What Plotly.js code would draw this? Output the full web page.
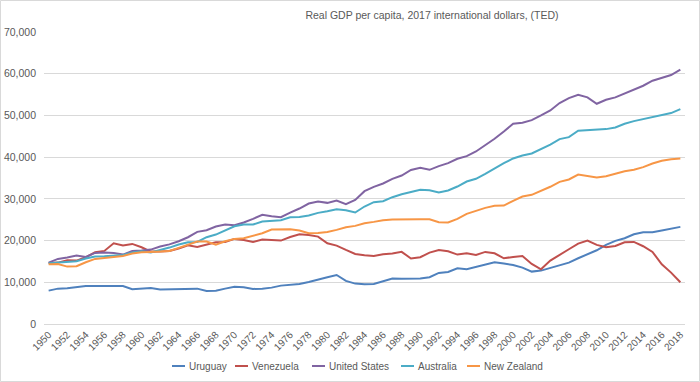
<!DOCTYPE html>
<html>
<head>
<meta charset="utf-8">
<script src="https://cdn.plot.ly/plotly-3.0.1.min.js"></script>
<style>
html,body{margin:0;padding:0;background:#fff;}
#chart{width:700px;height:382px;}
</style>
</head>
<body>
<div id="chart"></div>
<script>
const years = [];
for (let y = 1950; y <= 2018; y++) years.push(y);

const uruguay = [8000,8480,8560,8800,9120,9120,9120,9120,9120,8320,
8560,8640,8300,8300,8300,8300,8480,7900,8000,8480,
8900,8800,8400,8480,8720,9200,9450,9600,10080,10560,
11200,11750,10320,9680,9520,9600,10240,10880,10850,10850,
10900,11200,12240,12480,13360,13120,13680,14320,14800,14480,
14160,13520,12560,12800,13400,14160,14720,15760,16800,17680,
18960,19920,20560,21520,22000,22000,22400,22880,23280];

const venezuela = [14640,14720,15280,15200,16000,17200,17520,19360,18800,19200,
18400,17360,17400,17500,18080,18880,18480,18960,19600,19680,
20400,20160,19680,20240,20160,20000,20850,21520,21360,20960,
19360,18800,17760,16800,16480,16320,16720,16880,17300,15700,
16000,17120,17760,17440,16640,16960,16560,17280,16960,15760,
16080,16320,14400,13100,15200,16640,17920,19280,20000,18960,
18400,18720,19600,19680,18640,17280,14320,12320,10000];

const unitedStates = [14720,15600,15920,16400,16080,17040,17120,17040,16640,17520,
17600,17840,18560,19080,19840,20800,22080,22480,23360,23840,
23680,24320,25200,26160,25840,25600,26720,27680,28880,29360,
29040,29600,28720,29760,31840,32880,33680,34800,35600,36920,
37440,36960,37840,38560,39600,40240,41360,42800,44400,46160,
48000,48240,48880,50000,51200,52960,54160,54960,54320,52800,
53760,54320,55200,56080,57120,58320,58960,59680,60960];

const australia = [14560,14720,14960,15040,15680,16160,16240,16320,16560,17120,
17440,17120,17640,18320,19040,19600,19680,20800,21440,22480,
23440,23840,23840,24560,24640,24880,25600,25680,26000,26640,
27040,27520,27280,26720,28160,29200,29440,30400,31100,31700,
32160,32080,31520,32000,32960,34160,34800,36000,37360,38560,
39680,40400,40880,42000,43000,44320,44800,46320,46480,46560,
46720,47120,48000,48640,49120,49760,50240,50560,51520];

const newZealand = [14320,14400,13760,13840,14800,15600,15840,16000,16320,16880,
17200,17280,17320,17520,18240,18960,19760,19760,19040,19840,
20400,20560,21120,21760,22640,22760,22720,22400,21760,21840,
22080,22560,23200,23520,24160,24480,24880,25040,25120,25160,
25120,25120,24400,24320,25200,26400,27200,27840,28320,28400,
29520,30560,30960,31840,32900,34080,34640,35840,35520,35120,
35440,36000,36640,36960,37600,38480,39120,39520,39680];

const seriesNames = ["Uruguay","Venezuela","United States","Australia","New Zealand"];
const seriesValues = [uruguay, venezuela, unitedStates, australia, newZealand];
const colors = ["#4F81BD","#C0504D","#8064A2","#4BACC6","#F79646"];

const tickYears = years.filter(y => y % 2 === 0);

const FONT = "Liberation Sans, Arial, sans-serif";

const traces = seriesNames.map((n, i) => ({
  x: years, y: seriesValues[i], name: n, type: "scatter", mode: "lines",
  line: {color: colors[i], width: 2}, showlegend: false
}));

const L = 44, R = 685, T = 32, B = 324, W = 700, H = 382;
const pw = R - L, ph = B - T;
const px = x => (x - L) / pw;
const py = y => (B - y) / ph;

// custom legend (line sample start positions, in pixels)
const legendStarts = [172, 235, 312, 401, 467];
const legendY = 366;
const shapes = [{type: "rect", xref: "paper", yref: "paper",
  x0: px(0.5), x1: px(W - 0.5), y0: py(H - 0.5), y1: py(0.5),
  line: {color: "#d9d9d9", width: 1}, fillcolor: "rgba(0,0,0,0)", layer: "below"}];
const annotations = [];
seriesNames.forEach((n, i) => {
  const s = legendStarts[i];
  shapes.push({type: "line", xref: "paper", yref: "paper",
    x0: px(s), x1: px(s + 13), y0: py(legendY), y1: py(legendY),
    line: {color: colors[i], width: 2}});
  annotations.push({xref: "paper", yref: "paper", x: px(s + 15), y: py(legendY),
    xanchor: "left", yanchor: "middle", showarrow: false, text: n,
    font: {family: FONT, size: 10, color: "#595959"}});
});

const layout = {
  width: W, height: H,
  margin: {l: L, r: W - R, t: T, b: H - B, pad: 0},
  paper_bgcolor: "#fff", plot_bgcolor: "#fff",
  font: {family: FONT, size: 10, color: "#595959"},
  showlegend: false,
  title: {text: "Real GDP per capita, 2017 international dollars, (TED)",
          font: {family: FONT, size: 10.5, color: "#595959"},
          x: 432 / W, xanchor: "center", xref: "container",
          y: 1 - 15 / H, yanchor: "middle", yref: "container"},
  xaxis: {range: [1949.5, 2018.5], tickvals: tickYears, ticktext: tickYears.map(String),
          tickangle: -45, showgrid: false, zeroline: false, showline: true,
          linecolor: "#d9d9d9", linewidth: 1, ticks: "", automargin: false,
          tickfont: {family: FONT, size: 10, color: "#595959"}},
  yaxis: {range: [0, 70000], dtick: 10000, tickformat: ",d", showgrid: true,
          gridcolor: "#d9d9d9", gridwidth: 1, zeroline: false, showline: false, ticks: "",
          automargin: false, ticklabelstandoff: 7,
          tickfont: {family: FONT, size: 10.5, color: "#595959"}},
  shapes: shapes,
  annotations: annotations
};

Plotly.newPlot("chart", traces, layout, {displayModeBar: false, staticPlot: true});
</script>
</body>
</html>
